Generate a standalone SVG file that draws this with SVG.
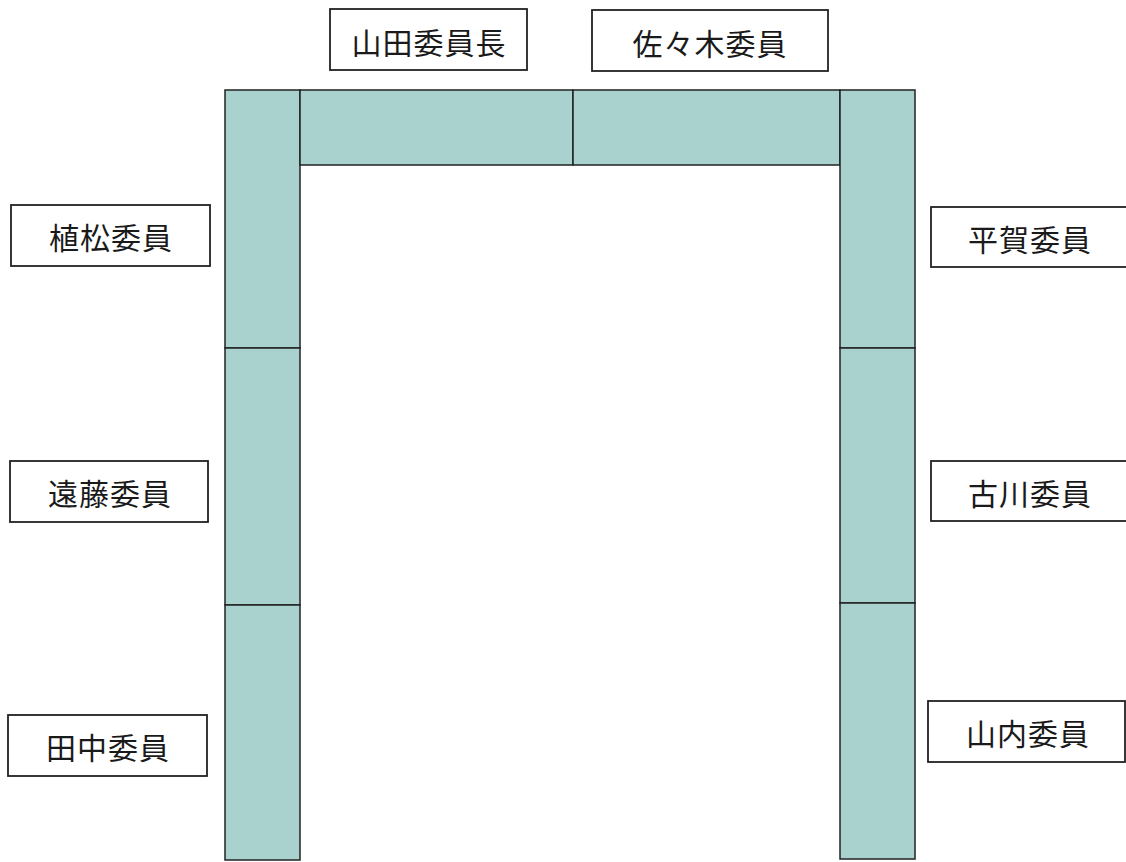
<svg xmlns="http://www.w3.org/2000/svg" width="1126" height="862" viewBox="0 0 1126 862">
<style>
.tbl{fill:#a9d1cd;stroke:#222;stroke-width:1.5}
.lbl{fill:#fff;stroke:#222;stroke-width:1.8}
.t{font-family:"Noto Sans CJK JP","Noto Sans CJK SC",sans-serif;font-size:30px;fill:#1a1a1a;text-anchor:middle;dominant-baseline:central;letter-spacing:1px}
</style>
<rect width="1126" height="862" fill="#fff"/>
<g id="tables">
<rect class="tbl" x="225" y="90" width="75" height="258"/>
<rect class="tbl" x="225" y="348" width="75" height="257"/>
<rect class="tbl" x="225" y="605" width="75" height="255"/>
<rect class="tbl" x="300" y="90" width="273" height="75"/>
<rect class="tbl" x="573" y="90" width="267" height="75"/>
<rect class="tbl" x="840" y="90" width="75" height="258"/>
<rect class="tbl" x="840" y="348" width="75" height="255"/>
<rect class="tbl" x="840" y="603" width="75" height="256"/>
</g>
<g id="connectors"></g>
<g id="yamada"><rect class="lbl" x="330" y="9" width="197" height="61"/><text class="t" x="429" y="41">山田委員長</text></g>
<g id="sasaki"><rect class="lbl" x="592" y="10" width="236" height="61"/><text class="t" x="710" y="42">佐々木委員</text></g>
<g id="uematsu"><rect class="lbl" x="11" y="205" width="199" height="61"/><text class="t" x="111" y="236">植松委員</text></g>
<g id="endo"><rect class="lbl" x="10" y="461" width="198" height="61"/><text class="t" x="110" y="492">遠藤委員</text></g>
<g id="tanaka"><rect class="lbl" x="8" y="715" width="199" height="61"/><text class="t" x="108" y="746">田中委員</text></g>
<g id="hiraga"><rect class="lbl" x="931" y="207" width="200" height="60"/><text class="t" x="1030" y="238">平賀委員</text></g>
<g id="furukawa"><rect class="lbl" x="931" y="461" width="200" height="60"/><text class="t" x="1030" y="492">古川委員</text></g>
<g id="yamauchi"><rect class="lbl" x="928" y="701" width="197" height="61"/><text class="t" x="1028" y="732">山内委員</text></g>
</svg>
